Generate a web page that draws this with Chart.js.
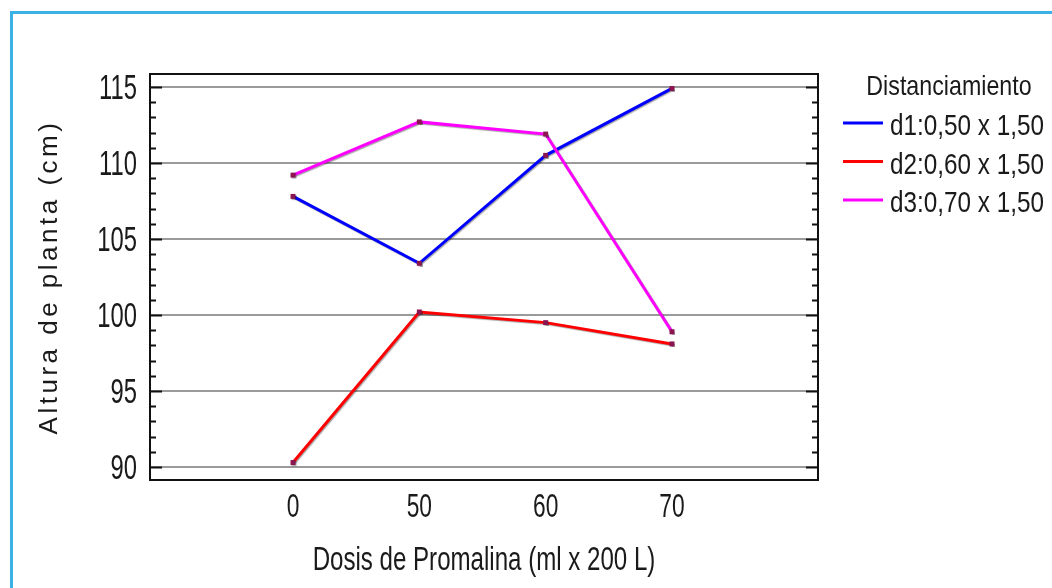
<!DOCTYPE html>
<html>
<head>
<meta charset="utf-8">
<script src="https://cdn.jsdelivr.net/npm/chart.js@4.4.1/dist/chart.umd.min.js"></script>
<style>
  html, body { margin: 0; padding: 0; background: #fff; overflow: hidden; }
  #wrap { position: relative; width: 1052px; height: 588px; }
  #frame { position: absolute; left: 10px; top: 11px; width: 1080px; height: 620px; border: 3px solid #3bb2e6; box-sizing: border-box; }
  canvas { position: absolute; left: 0; top: 0; }
</style>
</head>
<body>
<div id="wrap">
  <div id="frame"></div>
  <canvas id="grafico" width="1052" height="588"></canvas>
</div>
<script>
const dosis = ["0", "50", "60", "70"];
const serieNombres = ["d1:0,50 x 1,50", "d2:0,60 x 1,50", "d3:0,70 x 1,50"];
const d1 = [107.8, 103.4, 110.5, 114.9];
const d2 = [90.3, 100.2, 99.5, 98.1];
const d3 = [109.2, 112.7, 111.9, 98.9];
const yTicks = [90, 95, 100, 105, 110, 115];

const tituloX = "Dosis de Promalina (ml x 200 L)";
const tituloY = "Altura de planta (cm)";
const tituloLeyenda = "Distanciamiento";

const fuente = "'Liberation Sans', Arial, sans-serif";
const colores = ["#0000ff", "#ff0000", "#ff00ff"];
const tinta = "#1a1a1a";

const puntos = arr => arr.map((v, i) => ({ x: i, y: v }));

// Arial Narrow look: Liberation Sans squeezed horizontally
function texto(ctx, str, x, y, size, sx, align) {
  ctx.save();
  ctx.translate(x, y);
  ctx.scale(sx, 1);
  ctx.font = size + "px " + fuente;
  ctx.textAlign = align;
  ctx.textBaseline = "alphabetic";
  ctx.fillStyle = tinta;
  ctx.fillText(str, 0, 0);
  ctx.restore();
}

const extras = {
  id: "extras",
  beforeDatasetDraw(chart) {
    const ctx = chart.ctx;
    ctx.save();
    ctx.shadowColor = "rgba(0,0,0,0.35)";
    ctx.shadowOffsetX = 1;
    ctx.shadowOffsetY = 1;
    ctx.shadowBlur = 1;
  },
  afterDatasetDraw(chart) {
    chart.ctx.restore();
  },
  afterDraw(chart) {
    const ctx = chart.ctx;
    const a = chart.chartArea;
    const sy = chart.scales.y;
    const sx = chart.scales.x;
    ctx.save();
    ctx.strokeStyle = "#111";
    ctx.lineWidth = 2;
    ctx.strokeRect(a.left, a.top, a.right - a.left, a.bottom - a.top);
    ctx.beginPath();
    for (let v = 90; v <= 115; v++) {
      const py = Math.round(sy.getPixelForValue(v)) + 0.5;
      const len = v % 5 === 0 ? 12 : 6;
      ctx.moveTo(a.left, py); ctx.lineTo(a.left + len, py);
      ctx.moveTo(a.right, py); ctx.lineTo(a.right - len, py);
    }
    ctx.stroke();
    ctx.restore();

    // tick labels
    sy.ticks.forEach((t, i) => {
      texto(ctx, String(t.value), a.left - 13, sy.getPixelForTick(i) + 12, 35, 0.68, "right");
    });
    sx.ticks.forEach((t, i) => {
      texto(ctx, dosis[t.value], sx.getPixelForTick(i), 517, 34, 0.67, "center");
    });
    texto(ctx, tituloX, (a.left + a.right) / 2, 570, 33, 0.73, "center");

    // legend
    texto(ctx, tituloLeyenda, 949, 95, 28, 0.83, "center");
    chart.data.datasets.forEach((ds, i) => {
      const base = 135 + i * 38.5;
      ctx.save();
      ctx.strokeStyle = ds.borderColor;
      ctx.lineWidth = 3;
      ctx.beginPath();
      ctx.moveTo(843, base - 12); ctx.lineTo(883, base - 12);
      ctx.stroke();
      ctx.restore();
      texto(ctx, ds.label, 890, base, 30, 0.81, "left");
    });

    // y title, letter spaced
    ctx.save();
    ctx.translate(50, 277);
    ctx.rotate(-Math.PI / 2);
    ctx.font = "26px " + fuente;
    ctx.letterSpacing = "3.5px";
    ctx.textAlign = "center";
    ctx.textBaseline = "middle";
    ctx.fillStyle = tinta;
    ctx.fillText(tituloY, 0, 0);
    ctx.restore();
  }
};

new Chart(document.getElementById("grafico"), {
  type: "line",
  data: {
    datasets: [d1, d2, d3].map((serie, i) => ({
      label: serieNombres[i],
      data: puntos(serie),
      borderColor: colores[i],
      backgroundColor: "#8a1550",
      borderWidth: 3,
      pointStyle: "rect",
      pointRadius: 3.5,
      pointBorderWidth: 0,
      pointBackgroundColor: "#8a1550",
      tension: 0,
      order: 3 - i
    }))
  },
  options: {
    responsive: false,
    animation: false,
    layout: { padding: { left: 0, top: 74, right: 234, bottom: 0 } },
    plugins: { legend: { display: false }, tooltip: { enabled: false } },
    scales: {
      x: {
        type: "linear",
        min: -1.132,
        max: 4.156,
        afterFit: s => { s.height = 108; },
        afterBuildTicks: s => { s.ticks = dosis.map((_, i) => ({ value: i })); },
        grid: { display: false, drawTicks: false },
        border: { display: false },
        ticks: { display: false }
      },
      y: {
        min: 89.15,
        max: 115.85,
        afterFit: s => { s.width = 150; },
        afterBuildTicks: s => { s.ticks = yTicks.map(v => ({ value: v })); },
        grid: { color: "#9a9a9a", lineWidth: 2, drawTicks: false },
        border: { display: false },
        ticks: { display: false }
      }
    }
  },
  plugins: [extras]
});
</script>
</body>
</html>
